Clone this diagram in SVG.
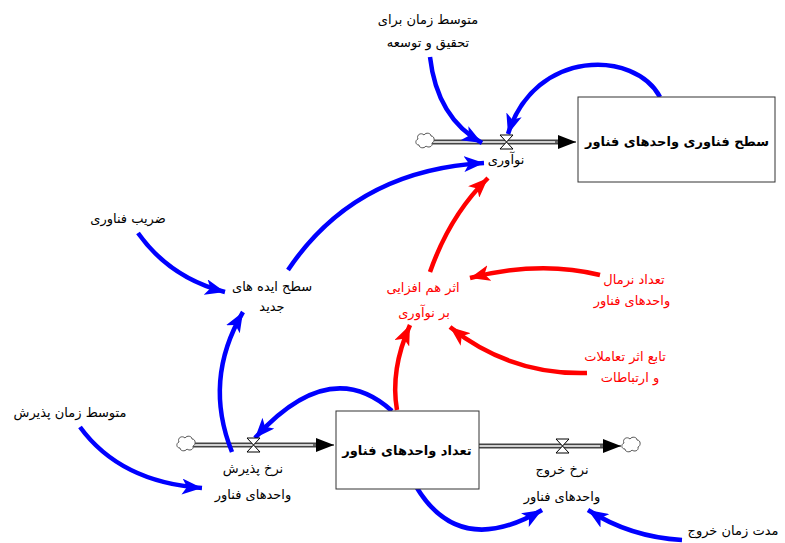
<svg xmlns="http://www.w3.org/2000/svg" width="785" height="543" viewBox="0 0 785 543">
<style>
.t{font-family:"DejaVu Sans","Noto Sans",sans-serif;font-size:13px;fill:#000;text-anchor:middle}
.r{fill:#ff0000}
.b{font-weight:bold}
.stock{fill:#fff;stroke:#333;stroke-width:1}
.po{fill:none;stroke:#444;stroke-width:5}
.pi{fill:none;stroke:#fff;stroke-width:1.6}
.valve{fill:#fff;stroke:#000;stroke-width:1}
.cloud{fill:#fff;stroke:#555;stroke-width:1}
.lb{fill:none;stroke:#0000ff;stroke-width:4.5;marker-end:url(#ab)}
.lr{fill:none;stroke:#ff0000;stroke-width:4.5;marker-end:url(#ar)}
</style>
<defs>
<marker id="ab" markerUnits="userSpaceOnUse" markerWidth="22" markerHeight="16" refX="20" refY="8" orient="auto"><path d="M0,0 L20,8 L0,16 L5,8 z" fill="#0000ff"/></marker>
<marker id="ar" markerUnits="userSpaceOnUse" markerWidth="22" markerHeight="16" refX="20" refY="8" orient="auto"><path d="M0,0 L20,8 L0,16 L5,8 z" fill="#ff0000"/></marker>
<marker id="af" markerUnits="userSpaceOnUse" markerWidth="20" markerHeight="14" refX="18" refY="7" orient="auto"><path d="M0,0 L18,7 L0,14 z" fill="#000"/></marker>
<path id="cl" d="M2,4 C0,0 5,-3 8,0 C10,-3 15,-2 15,1 C19,1 19,7 16,8 C17,12 12,13 10,11 C8,14 3,13 3,10 C-1,10 -1,5 2,4 z"/>
</defs>

<g id="connectors">
<g id="flow-innovation">
<line class="po" x1="432" y1="142" x2="562" y2="142"/>
<line class="pi" x1="432" y1="142" x2="562" y2="142"/>
<line x1="555" y1="142" x2="576" y2="142" stroke="#000" stroke-width="1" marker-end="url(#af)"/>
</g>
<g id="flow-adoption">
<line class="po" x1="193" y1="445" x2="320" y2="445"/>
<line class="pi" x1="193" y1="445" x2="320" y2="445"/>
<line x1="313" y1="445" x2="334" y2="445" stroke="#000" stroke-width="1" marker-end="url(#af)"/>
</g>
<g id="flow-exit">
<line class="po" x1="479" y1="446" x2="606" y2="446"/>
<line class="pi" x1="479" y1="446" x2="606" y2="446"/>
<line x1="600" y1="446" x2="621" y2="446" stroke="#000" stroke-width="1" marker-end="url(#af)"/>
</g>
<path class="lb" d="M430,57 Q437,118 482,143"/>
<path class="lb" d="M660,97 C635,50 535,48 508,134"/>
<path class="lb" d="M288,270 Q355,170 484,163"/>
<path class="lr" d="M430,272 Q450,215 488,178"/>
<path class="lr" d="M600,275 Q540,260 470,278"/>
<path class="lr" d="M587,373 Q510,375 450,327"/>
<path class="lr" d="M397,410 Q390,370 410,325"/>
<path class="lb" d="M232,452 Q203,380 243,312"/>
<path class="lb" d="M138,233 Q170,278 225,292"/>
<path class="lb" d="M392,411 Q330,355 255,438"/>
<path class="lb" d="M80,427 Q120,482 202,488"/>
<path class="lb" d="M417,488 Q460,558 542,510"/>
<path class="lb" d="M682,540 Q630,537 588,510"/>
</g>

<g id="cloud-innovation-source"><use href="#cl" class="cloud" transform="translate(416,135)"/></g>
<g id="cloud-adoption-source"><use href="#cl" class="cloud" transform="translate(177,438)"/></g>
<g id="cloud-exit-sink"><use href="#cl" class="cloud" transform="translate(622,439)"/></g>

<g id="stock-tech-level">
<rect class="stock" x="578" y="97" width="197" height="85"/>
<text class="t b" x="677" y="146" font-size="13">سطح فناوری واحدهای فناور</text>
</g>
<g id="stock-units">
<rect class="stock" x="336" y="411" width="143" height="78"/>
<text class="t b" x="407" y="455" font-size="13.3">تعداد واحدهای فناور</text>
</g>

<g id="valve-innovation">
<path class="valve" d="M500,135 L513,135 L506.5,142 z M500,149 L513,149 L506.5,142 z"/>
<text class="t" x="506" y="164">نوآوری</text>
</g>
<g id="valve-adoption">
<path class="valve" d="M247,438 L260,438 L253.5,445 z M247,452 L260,452 L253.5,445 z"/>
<text class="t" x="253" y="473">نرخ پذیرش</text>
<text class="t" x="253" y="499">واحدهای فناور</text>
</g>
<g id="valve-exit">
<path class="valve" d="M556,439 L569,439 L562.5,446 z M556,453 L569,453 L562.5,446 z"/>
<text class="t" x="562" y="474">نرخ خروج</text>
<text class="t" x="562" y="501">واحدهای فناور</text>
</g>

<g id="aux-rd-time">
<text class="t" x="428" y="24">متوسط زمان برای</text>
<text class="t" x="428" y="47">تحقیق و توسعه</text>
</g>
<g id="aux-tech-factor">
<text class="t" x="128" y="223">ضریب فناوری</text>
</g>
<g id="aux-new-ideas">
<text class="t" x="272" y="291">سطح ایده های</text>
<text class="t" x="272" y="311">جدید</text>
</g>
<g id="aux-synergy">
<text class="t r" x="423" y="292">اثر هم افزایی</text>
<text class="t r" x="424" y="317">بر نوآوری</text>
</g>
<g id="aux-normal-units">
<text class="t r" x="634" y="284">تعداد نرمال</text>
<text class="t r" x="632" y="305">واحدهای فناور</text>
</g>
<g id="aux-interaction">
<text class="t r" x="625" y="361">تابع اثر تعاملات</text>
<text class="t r" x="630" y="382">و ارتباطات</text>
</g>
<g id="aux-adoption-time">
<text class="t" x="70" y="417">متوسط زمان پذیرش</text>
</g>
<g id="aux-exit-time">
<text class="t" x="733" y="535">مدت زمان خروج</text>
</g>
</svg>
